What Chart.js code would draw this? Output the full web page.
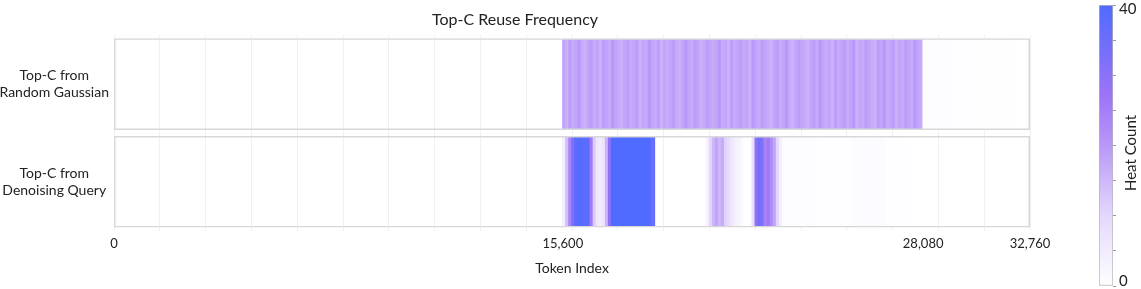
<!DOCTYPE html>
<html>
<head>
<meta charset="utf-8">
<script src="https://cdn.jsdelivr.net/npm/chart.js@4.4.0/dist/chart.umd.min.js"></script>
<style>
  html, body { margin: 0; padding: 0; background: #fff; overflow: hidden; }
  #wrap { position: relative; width: 1141px; height: 289px; }
  #main { position: absolute; left: 0; top: 0; }
  #bar { position: absolute; left: 1060px; top: 0; }
</style>
</head>
<body>
<div id="wrap">
  <canvas id="main" width="1144" height="289"></canvas>
  <canvas id="bar" width="81" height="289"></canvas>
</div>
<script>
// rows of the heat strip (top to bottom)
const rows = ['Random Gaussian', 'Denoising Query'];
const rowLabels = [['Top-C from', 'Random Gaussian'], ['Top-C from', 'Denoising Query']];

// x axis is split into 300 bins; tick labels sit on these bins
const binCount = 300;
const tickBins = [0, 147, 265, 300];
const tickLabels = ['0', '15,600', '28,080', '32,760'];

// heat counts per bin, starting at the given bin
const gaussianStart = 147;
const gaussianHeat = [
  18, 16, 19, 17, 18, 20, 17, 16, 18, 19,
  17, 18, 16, 19, 18, 17, 20, 18, 17, 16,
  18, 19, 17, 18, 19, 16, 18, 17, 20, 18,
  17, 19, 16, 18, 17, 18, 19, 17, 16, 18,
  20, 18, 17, 19, 18, 16, 17, 19, 18, 17,
  18, 20, 17, 18, 16, 19, 17, 18, 19, 17,
  18, 16, 20, 18, 17, 19, 18, 17, 16, 18,
  19, 17, 18, 20, 17, 16, 18, 19, 18, 17,
  16, 18, 19, 17, 20, 18, 17, 18, 16, 19,
  17, 18, 19, 17, 18, 20, 16, 18, 17, 19,
  18, 17, 16, 19, 18, 20, 17, 18, 19, 16,
  18, 17, 19, 18, 17, 20, 18, 17,
  0.7, 0.7, 0.6, 0.7, 0.6, 0.7, 0.6, 0.6, 0.7, 0.6,
  0.5, 0.5, 0.5, 0.4, 0.5, 0.5, 0.4, 0.5, 0.4, 0.4,
  0.3, 0.3, 0.3, 0.3, 0.2, 0.3, 0.2, 0.2, 0.2, 0.2
];

const queryStart = 147;
const queryHeat = [
  4, 14, 24, 33, 38, 39, 39, 38, 38, 26,
  12, 6, 5, 7, 16, 30, 40, 40, 40, 40,
  40, 40, 40, 40, 40, 40, 40, 40, 40, 36,
  0, 0, 0, 0, 0, 0, 0, 0, 0, 0,
  0, 0, 0, 0, 0, 0, 0, 3, 10, 15,
  18, 15, 17, 11, 9, 6, 4, 3, 2, 0.5,
  0.3, 0.3, 8, 30, 34, 32, 24, 26, 22, 18,
  10, 4, 0.8, 0.8, 0.8, 0.8, 0.8, 0.8, 0.8, 0.8,
  0.8, 0.8, 0.8, 0.8, 0.5, 0.5, 0.5, 0.5, 0.5, 0.5,
  0.5, 0.5, 0.5, 0.5, 0.5, 1, 1, 1, 1, 1,
  1, 1, 1, 1, 1, 1, 0.4, 0.4, 0.4, 0.4,
  0.4, 0.4
];

// colour scale
const heatMax = 40;
const heatStops = [0, 10, 20, 27, 40];
const heatColors = ['#ffffff', '#e4d8fc', '#b898f8', '#9d74f7', '#4f6bff'];

function hexRgb(h) {
  return [parseInt(h.slice(1, 3), 16), parseInt(h.slice(3, 5), 16), parseInt(h.slice(5, 7), 16)];
}

function heatColor(v) {
  if (v <= 0) return 'rgba(255,255,255,0)';
  let i = 0;
  while (i < heatStops.length - 2 && v > heatStops[i + 1]) i++;
  const t = Math.min(1, (v - heatStops[i]) / (heatStops[i + 1] - heatStops[i]));
  const a = hexRgb(heatColors[i]), b = hexRgb(heatColors[i + 1]);
  const c = a.map((x, k) => Math.round(x + (b[k] - x) * t));
  return 'rgb(' + c.join(',') + ')';
}

function cells(start, values, row) {
  return values.map((v, i) => ({ x: [start + i, start + i + 1], y: row }));
}

const font = 'Lato, "Open Sans", sans-serif';
const textColor = '#222';

new Chart(document.getElementById('main'), {
  type: 'bar',
  data: {
    labels: rows,
    datasets: [
      {
        // panel frames
        data: [{ x: [0, binCount], y: rows[0] }, { x: [0, binCount], y: rows[1] }],
        backgroundColor: 'rgba(0,0,0,0)',
        borderColor: '#d8d8d8',
        borderWidth: 1.5,
        borderSkipped: false,
        inflateAmount: 0,
        barPercentage: 0.939,
        order: 0
      },
      {
        data: cells(gaussianStart, gaussianHeat, rows[0]),
        backgroundColor: gaussianHeat.map(heatColor),
        borderWidth: 0,
        inflateAmount: 0.7,
        barPercentage: 0.905,
        order: 1
      },
      {
        data: cells(queryStart, queryHeat, rows[1]),
        backgroundColor: queryHeat.map(heatColor),
        borderWidth: 0,
        inflateAmount: 0.7,
        barPercentage: 0.905,
        order: 1
      }
    ]
  },
  options: {
    indexAxis: 'y',
    responsive: false,
    animation: false,
    devicePixelRatio: 1,
    datasets: {
      bar: { grouped: false, categoryPercentage: 1 }
    },
    layout: { padding: { left: 0, right: 114, top: 0, bottom: 12 } },
    plugins: {
      legend: { display: false },
      tooltip: { enabled: false },
      title: {
        display: true,
        text: 'Top-C Reuse Frequency',
        color: textColor,
        font: { family: font, size: 16, weight: 'normal' },
        padding: { top: 10, bottom: 6 }
      }
    },
    scales: {
      x: {
        type: 'linear',
        min: 0,
        max: binCount,
        afterBuildTicks: (scale) => { scale.ticks = tickBins.map(v => ({ value: v })); },
        ticks: {
          autoSkip: false,
          maxRotation: 0,
          padding: 5,
          color: textColor,
          font: { family: font, size: 13 },
          callback: (v, i) => tickLabels[i]
        },
        grid: { display: false, drawTicks: false },
        border: { display: false },
        title: {
          display: true,
          text: 'Token Index',
          color: textColor,
          font: { family: font, size: 14 },
          padding: { top: 4, bottom: 0 }
        }
      },
      xg: {
        type: 'linear',
        position: 'top',
        min: 0,
        max: 20,
        ticks: { display: false, stepSize: 1 },
        grid: { color: '#f0f0f0', drawTicks: false },
        border: { display: false }
      },
      y: {
        type: 'category',
        afterFit: (scale) => { scale.width = 114; },
        ticks: {
          crossAlign: 'center',
          padding: 5,
          color: textColor,
          font: { family: font, size: 14 },
          callback: (v, i) => rowLabels[i]
        },
        grid: { display: false, drawTicks: false },
        border: { display: false }
      }
    }
  }
});

// colour bar
const barTitle = {
  id: 'barTitle',
  afterDraw(chart) {
    const ctx = chart.ctx;
    ctx.save();
    ctx.translate(71, 153);
    ctx.rotate(-Math.PI / 2);
    ctx.fillStyle = textColor;
    ctx.font = '15px ' + font;
    ctx.textAlign = 'center';
    ctx.textBaseline = 'middle';
    ctx.fillText('Heat Count', 0, 0);
    ctx.restore();
  }
};

new Chart(document.getElementById('bar'), {
  type: 'bar',
  data: {
    labels: [''],
    datasets: [{
      data: [[0, heatMax]],
      backgroundColor: (ctx) => {
        const chart = ctx.chart;
        const ys = chart.scales.y;
        if (!chart.chartArea || !ys) return null;
        const g = chart.ctx.createLinearGradient(0, ys.getPixelForValue(0), 0, ys.getPixelForValue(heatMax));
        heatStops.forEach((s, i) => g.addColorStop(s / heatMax, heatColors[i]));
        return g;
      },
      borderColor: '#b5b5b5',
      borderWidth: 1,
      borderSkipped: false,
      barPercentage: 1,
      categoryPercentage: 1
    }]
  },
  options: {
    responsive: false,
    animation: false,
    devicePixelRatio: 1,
    layout: { padding: { left: 39, right: 0, top: 5, bottom: 3 } },
    plugins: { legend: { display: false }, tooltip: { enabled: false } },
    scales: {
      x: { display: false },
      y: {
        position: 'right',
        min: 0,
        max: heatMax,
        afterFit: (scale) => { scale.width = 28; scale.paddingTop = 0; scale.paddingBottom = 0; },
        ticks: {
          stepSize: 5,
          padding: 3,
          color: textColor,
          font: { family: font, size: 15, lineHeight: 0.6 },
          // end labels kept inside the bar's height
          callback: (v) => v === heatMax ? ['', '40'] : (v === 0 ? ['0', ''] : '')
        },
        grid: { drawOnChartArea: false, drawTicks: true, tickLength: 3, color: '#999' },
        border: { display: false }
      }
    }
  },
  plugins: [barTitle]
});
</script>
</body>
</html>
